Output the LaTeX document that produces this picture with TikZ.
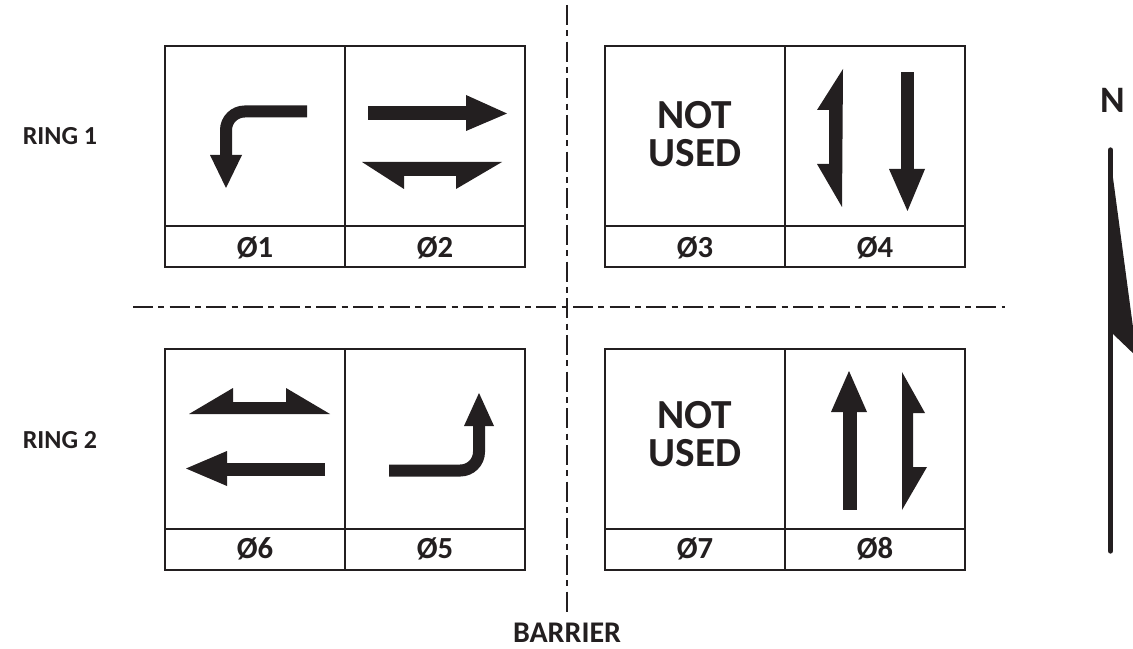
\documentclass[tikz,border=0pt]{standalone}
\usepackage{fontspec}
\setmainfont{Carlito}
\definecolor{ink}{HTML}{231F20}
\begin{document}
\begin{tikzpicture}[x=0.75pt, y=-0.75pt, ink, line join=miter,
    frame/.style={line width=1.6pt, draw=ink},
    sep/.style={line width=1.5pt, dash pattern=on 15pt off 4pt on 4.5pt off 4pt},
    mv/.style={line width=9pt, rounded corners=14pt},
    tag/.style={font=\fontsize{23}{23}\selectfont\bfseries},
    unused/.style={font=\fontsize{31}{28}\selectfont\bfseries, align=center},
    ring/.style={font=\fontsize{19.5}{19.5}\selectfont\bfseries}]
  \useasboundingbox (0,0) rectangle (1133,649);
  \clip (0,0) rectangle (1133,649);
  % barrier and ring separators
  \draw[sep] (567,5) -- (567,612);
  \draw[sep] (133,307) -- (1005,307);
  % phase boxes
  \foreach \bx/\by in {165/46, 605/46, 165/349, 605/349}
    \draw[frame] (\bx,\by) rectangle ++(360,221)
                 (\bx+180,\by) -- ++(0,221)
                 (\bx,\by+180) -- ++(360,0);
  \node[tag] (ph1) at (255,248) {Ø1};
  \node[tag] (ph2) at (435,248) {Ø2};
  \node[tag] (ph3) at (695,248) {Ø3};
  \node[tag] (ph4) at (875,248) {Ø4};
  \node[tag] (ph6) at (255,549) {Ø6};
  \node[tag] (ph5) at (435,549) {Ø5};
  \node[tag] (ph7) at (695,549) {Ø7};
  \node[tag] (ph8) at (875,549) {Ø8};
  \node[unused] (nu3) at (695,134) {NOT\\USED};
  \node[unused] (nu7) at (695,434) {NOT\\USED};
  % rings, barrier, north
  \node[ring] (r1) at (60,136) {RING 1};
  \node[ring] (r2) at (60,440) {RING 2};
  \node[font=\fontsize{22.5}{22.5}\selectfont\bfseries] (bar) at (567,633) {BARRIER};
  \node[font=\fontsize{28}{28}\selectfont\bfseries] (north) at (1113,100) {N};
  \draw[line width=4pt, line cap=round] (1110.5,150) -- (1110.5,551);
  \fill (1109,148) -- (1137,357) -- (1112,333) -- cycle;
  % phi 1: left turn
  \draw[mv] (307,111.5) -- (226,111.5) -- (226,157);
  \fill (210,155) -- (242,155) -- (226,188) -- cycle;
  % phi 2: through east + west half heads
  \fill (368,106.5) rectangle (467,120.5);
  \fill (466,95) -- (507,113.5) -- (466,131) -- cycle;
  \fill (362,162) -- (502,162) -- (456,189) -- (456,176) -- (404,176) -- (404,189) -- cycle;
  % phi 4: through south + north half heads
  \fill (843,69) -- (817,110) -- (829,110) -- (829,164) -- (817,164) -- (842,207) -- cycle;
  \fill (901,72) rectangle (914,170);
  \fill (889,169) -- (925,169) -- (907.5,211) -- cycle;
  % phi 6: through west + east half heads
  \fill (189,414) -- (233,388) -- (233,402) -- (286,402) -- (286,388) -- (330,414) -- cycle;
  \fill (226,463) rectangle (325,476);
  \fill (227,451) -- (227,486) -- (186,468.5) -- cycle;
  % phi 5: right turn up
  \draw[mv] (389,470.5) -- (479,470.5) -- (479,424);
  \fill (464,426) -- (494,426) -- (479,393) -- cycle;
  % phi 8: through north + south half heads
  \fill (843,510) rectangle (857,411);
  \fill (831,412) -- (867,412) -- (849,371) -- cycle;
  \fill (902,372) -- (925,413) -- (913,413) -- (913,467) -- (927,467) -- (902,510) -- cycle;
\end{tikzpicture}
\end{document}
